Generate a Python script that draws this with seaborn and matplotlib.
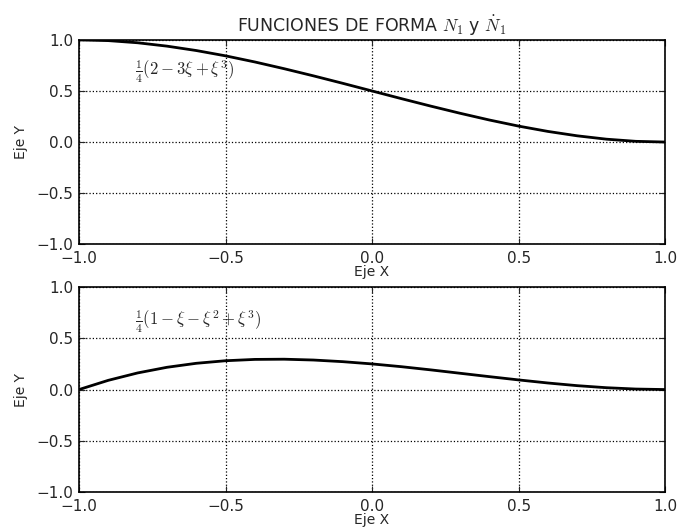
import matplotlib
matplotlib.use("Agg")
import matplotlib.pyplot as plt
import seaborn as sns
import pandas as pd

xi = [-1.0, -0.9, -0.8, -0.7, -0.6, -0.5, -0.4, -0.3, -0.2, -0.1, 0.0,
      0.1, 0.2, 0.3, 0.4, 0.5, 0.6, 0.7, 0.8, 0.9, 1.0]
n1 = [1.000, 0.993, 0.972, 0.939, 0.896, 0.844, 0.784, 0.718, 0.648, 0.575, 0.500,
      0.425, 0.352, 0.282, 0.216, 0.156, 0.104, 0.061, 0.028, 0.007, 0.000]
n1dot = [0.000, 0.090, 0.162, 0.217, 0.256, 0.281, 0.294, 0.296, 0.288, 0.272, 0.250,
         0.223, 0.192, 0.159, 0.126, 0.094, 0.064, 0.038, 0.018, 0.005, 0.000]
labels = [r"$\frac{1}{4}(2-3\xi+\xi^3)$", r"$\frac{1}{4}(1-\xi-\xi^2+\xi^3)$"]
ticks = [-1.0, -0.5, 0.0, 0.5, 1.0]
ticklabels = ["\u22121.0", "\u22120.5", "0.0", "0.5", "1.0"]
title = r"FUNCIONES DE FORMA $N_1$ y $\dot{N}_1$"

sns.set_style("ticks")
plt.rcParams["font.family"] = ["DejaVu Sans"]
plt.rcParams["mathtext.fontset"] = "cm"
plt.rcParams["xtick.direction"] = "in"
plt.rcParams["ytick.direction"] = "in"

fig = plt.figure(figsize=(6.78, 5.32), dpi=100)
ax1 = fig.add_axes([0.1165, 0.541, 0.8645, 0.384])
ax2 = fig.add_axes([0.1165, 0.075, 0.8645, 0.3855])

df1 = pd.DataFrame({"x": xi, "y": n1})
df2 = pd.DataFrame({"x": xi, "y": n1dot})

for ax, df, lab, ty in [(ax1, df1, labels[0], 0.69), (ax2, df2, labels[1], 0.66)]:
    sns.lineplot(data=df, x="x", y="y", ax=ax, color="black", linewidth=2.0)
    ax.set_xlim(-1, 1)
    ax.set_ylim(-1, 1)
    ax.set_xticks(ticks)
    ax.set_yticks(ticks)
    ax.set_xticklabels(ticklabels, fontsize=11)
    ax.set_yticklabels(ticklabels, fontsize=11)
    ax.grid(True, linestyle=":", color="black", linewidth=0.9)
    ax.tick_params(length=4, width=0.8, top=True, right=True)
    ax.tick_params(axis="x", pad=5)
    ax.tick_params(axis="y", pad=4)
    for s in ax.spines.values():
        s.set_color("black")
        s.set_linewidth(1.2)
    ax.set_xlabel("Eje X", fontsize=10, labelpad=-1)
    ax.set_ylabel("Eje Y", fontsize=10, labelpad=6)
    ax.text(-0.81, ty, lab, fontsize=12, ha="left", va="center")

ax1.set_title(title, fontsize=12.5, pad=6)

fig.savefig("out.png", dpi=100)
